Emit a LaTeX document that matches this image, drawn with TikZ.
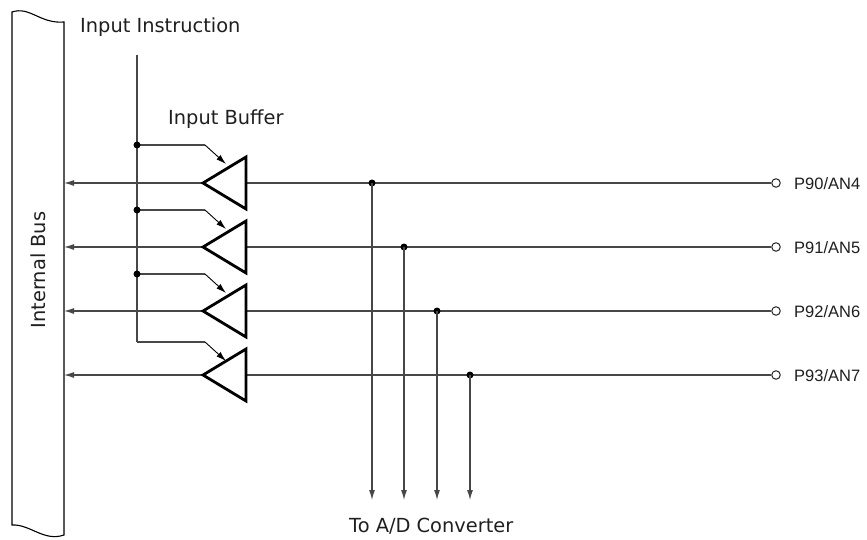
\documentclass[tikz,border=0pt]{standalone}
\usepackage{fontspec}
\setmainfont{DejaVu Sans}
\newfontfamily\arialf{Liberation Sans}
\usetikzlibrary{arrows.meta}
\begin{document}
\begin{tikzpicture}[x=1pt,y=-1pt,
  wire/.style={line width=1.1pt, draw=black!72},
  arr/.style={wire,-{Latex[length=10pt,width=6pt]}},
  carr/.style={line width=0.9pt, draw=black, -{Latex[length=10pt,width=6pt]}},
  buf/.style={line width=2.8pt, line join=miter, draw=black},
  dotnode/.style={circle,fill=black,inner sep=0pt,minimum size=7pt},
  port/.style={circle,draw=black!85,line width=1pt,fill=white,inner sep=0pt,minimum size=8.5pt},
  lbl/.style={font=\fontsize{19.4}{22}\selectfont, inner sep=0pt, text=black!88},
  plbl/.style={font=\arialf\fontsize{16.5}{19}\selectfont, inner sep=0pt, text=black!88}]
\useasboundingbox (0,0) rectangle (867,540);
% internal bus
\draw[line width=1.1pt, fill=white] (12,12) .. controls (30,6) and (40,24) .. (64,22) -- (64,535)
   .. controls (44,542) and (30,524) .. (12,525) -- cycle;
\node[lbl, rotate=90] (buslbl) at (38,270) {Internal Bus};
% labels
\node[lbl, anchor=base west] (instr) at (80,33) {Input Instruction};
\node[lbl, anchor=base west] (buflbl) at (168,125) {Input Buffer};
\node[lbl, anchor=base west] (adlbl) at (349,532) {To A/D Converter};
% control line
\coordinate (ctop) at (137,55);
\foreach \i/\r/\c/\dx/\name in {1/183/145/372/{P90/AN4}, 2/247/210/404/{P91/AN5}, 3/311/274/437/{P92/AN6}, 4/375/342/470/{P93/AN7}}{
  \coordinate (apex\i) at (203,\r);
  \coordinate (back\i) at (246,\r);
  \coordinate (bus\i) at (64,\r);
  \node[port] (port\i) at (776,\r) {};
  \node[plbl, anchor=base west] (plabel\i) at (794,\r+6.5) {\name};
  \draw[arr] (apex\i) -- (bus\i);
  \draw[wire] (port\i) -- (back\i);
  \node[dotnode] (tap\i) at (\dx,\r) {};
  \coordinate (ad\i) at (\dx,500);
  \draw[arr] (tap\i.center) -- (ad\i);
  \coordinate (ctl\i) at (137,\c);
  \coordinate (bend\i) at (205,\c);
  \coordinate (tip\i) at (226,\c+19);
  \draw[wire] (ctl\i) -- (bend\i);
  \draw[carr] (bend\i) -- (tip\i);
  \draw[buf] (apex\i) -- (246,\r-26) -- (246,\r+26) -- cycle;
}
\draw[wire] (ctop) -- (ctl4);
\foreach \i in {1,2,3}{ \node[dotnode] (cdot\i) at (ctl\i) {}; }
\end{tikzpicture}
\end{document}
